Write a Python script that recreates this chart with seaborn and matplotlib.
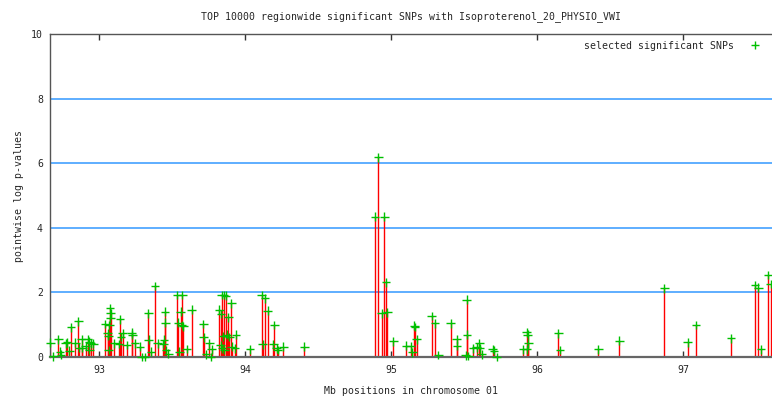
import matplotlib
matplotlib.use("Agg")
import matplotlib.pyplot as plt
import numpy as np
import pandas as pd
import seaborn as sns

# SNP positions (Mb) and pointwise -log10 p-values
positions = [
    92.666, 92.687, 92.721, 92.733, 92.740, 92.772, 92.781, 92.795, 92.808, 92.836,
    92.858, 92.863, 92.882, 92.886, 92.909, 92.923, 92.932, 92.943, 92.961, 92.934,
    93.041, 93.060, 93.075, 93.080, 93.077, 93.071, 93.064, 93.066, 93.105, 93.144,
    93.162, 93.151, 93.137, 93.190, 93.224, 93.228, 93.247, 93.281, 93.292, 93.315,
    93.338, 93.340, 93.356, 93.384, 93.402, 93.452, 93.454, 93.445, 93.440, 93.459,
    93.475, 93.536, 93.571, 93.560, 93.543, 93.566, 93.577, 93.550, 93.601, 93.635,
    93.714, 93.716, 93.755, 93.733, 93.772, 93.767, 93.824, 93.840, 93.856, 93.870,
    93.836, 93.886, 93.906, 93.851, 93.875, 93.892, 93.938, 93.834, 93.842, 93.858,
    93.909, 93.932, 94.034, 94.114, 94.137, 94.155, 94.201, 94.121, 94.194, 94.217,
    94.224, 94.262, 94.406, 94.890, 94.913, 94.954, 94.936, 94.975, 94.966, 95.016,
    95.103, 95.135, 95.146, 95.160, 95.164, 95.176, 95.279, 95.301, 95.324, 95.409,
    95.450, 95.452, 95.518, 95.520, 95.512, 95.530, 95.564, 95.587, 95.605, 95.610,
    95.621, 95.697, 95.705, 95.724, 95.906, 95.929, 95.936, 95.940, 95.932, 96.146,
    96.158, 96.420, 96.564, 96.872, 97.032, 97.089, 97.329, 97.493, 97.516, 97.534,
    97.584, 97.600,
]
log_p = [
    0.44, 0.02, 0.55, 0.17, 0.07, 0.42, 0.46, 0.19, 0.92, 0.44,
    1.10, 0.29, 0.55, 0.28, 0.34, 0.55, 0.47, 0.42, 0.41, 0.22,
    1.02, 0.73, 1.51, 1.35, 1.20, 0.99, 0.65, 0.22, 0.42, 1.17,
    0.73, 0.62, 0.40, 0.37, 0.75, 0.69, 0.42, 0.32, 0.00, 0.00,
    1.35, 0.53, 0.16, 2.20, 0.42, 1.40, 1.06, 0.53, 0.40, 0.22,
    0.10, 1.92, 1.92, 1.40, 1.06, 0.99, 0.95, 0.17, 0.25, 1.46,
    1.02, 0.61, 0.42, 0.08, 0.24, 0.00, 1.46, 1.92, 1.92, 1.90,
    1.33, 1.23, 1.66, 0.64, 0.69, 0.62, 0.69, 0.37, 0.27, 0.22,
    0.32, 0.27, 0.24, 1.92, 1.82, 1.43, 0.99, 0.39, 0.40, 0.27,
    0.22, 0.32, 0.32, 4.34, 6.18, 4.34, 1.35, 1.38, 2.31, 0.48,
    0.35, 0.33, 0.15, 0.97, 0.93, 0.55, 1.27, 1.04, 0.06, 1.04,
    0.55, 0.35, 1.77, 0.69, 0.05, 0.03, 0.27, 0.30, 0.42, 0.27,
    0.08, 0.25, 0.20, 0.00, 0.24, 0.77, 0.69, 0.42, 0.24, 0.73,
    0.22, 0.24, 0.51, 2.13, 0.46, 0.99, 0.58, 2.23, 2.15, 0.24,
    2.54, 2.26,
]
x_ticks = [93, 94, 95, 96, 97]
y_ticks = [0, 2, 4, 6, 8, 10]
grid_levels = [2, 4, 6, 8]

title = "TOP 10000 regionwide significant SNPs with Isoproterenol_20_PHYSIO_VWI"
series_label = "selected significant SNPs"

df = pd.DataFrame({"pos": positions, "logp": log_p, "kind": series_label})

sns.set_theme(style="white")
mono = "DejaVu Sans Mono"
plt.rcParams["font.family"] = [mono]
plt.rcParams["font.size"] = 7.1

fig = plt.figure(figsize=(7.72, 3.99), dpi=100)
ax = fig.add_axes([50 / 772, 42 / 399, 722 / 772, 323 / 399])

for lvl in grid_levels:
    ax.axhline(lvl, color="#3399ff", lw=1.1, zorder=1)

ax.vlines(df["pos"], 0, df["logp"], color="red", lw=1.0, zorder=2)
sns.scatterplot(data=df, x="pos", y="logp", hue="kind", palette=["#00c000"],
                marker="+", s=40, linewidth=1.0, ax=ax, zorder=3, legend=True,
                clip_on=False)

ax.set_xlim(92.664, 97.61)
ax.set_ylim(0, 10)
ax.set_xticks(x_ticks)
ax.set_yticks(y_ticks)
ax.set_xticklabels([str(t) for t in x_ticks])
ax.set_yticklabels([str(t) for t in y_ticks])
ax.tick_params(axis="x", direction="in", length=4, width=1, color="#333333",
               top=True, bottom=True, pad=6, labelsize=7.1)
ax.tick_params(axis="y", length=0, pad=5, labelsize=7.1)

for side in ["left", "bottom", "top"]:
    ax.spines[side].set_visible(True)
    ax.spines[side].set_color("#555555")
    ax.spines[side].set_linewidth(1.0)
ax.spines["bottom"].set_linewidth(1.6)
ax.spines["bottom"].set_color("#666666")
ax.spines["right"].set_visible(False)

ax.set_title(title, fontsize=7.1, pad=11)
ax.set_xlabel("Mb positions in chromosome 01", fontsize=7.1, labelpad=8)
ax.set_ylabel("pointwise log p-values", fontsize=7.1, labelpad=5)

ax.legend(loc="upper right", frameon=False, markerfirst=False,
          fontsize=7.1, handletextpad=1.2, borderaxespad=0.3,
          bbox_to_anchor=(1.0, 1.0))

fig.savefig("out.png", dpi=100)
